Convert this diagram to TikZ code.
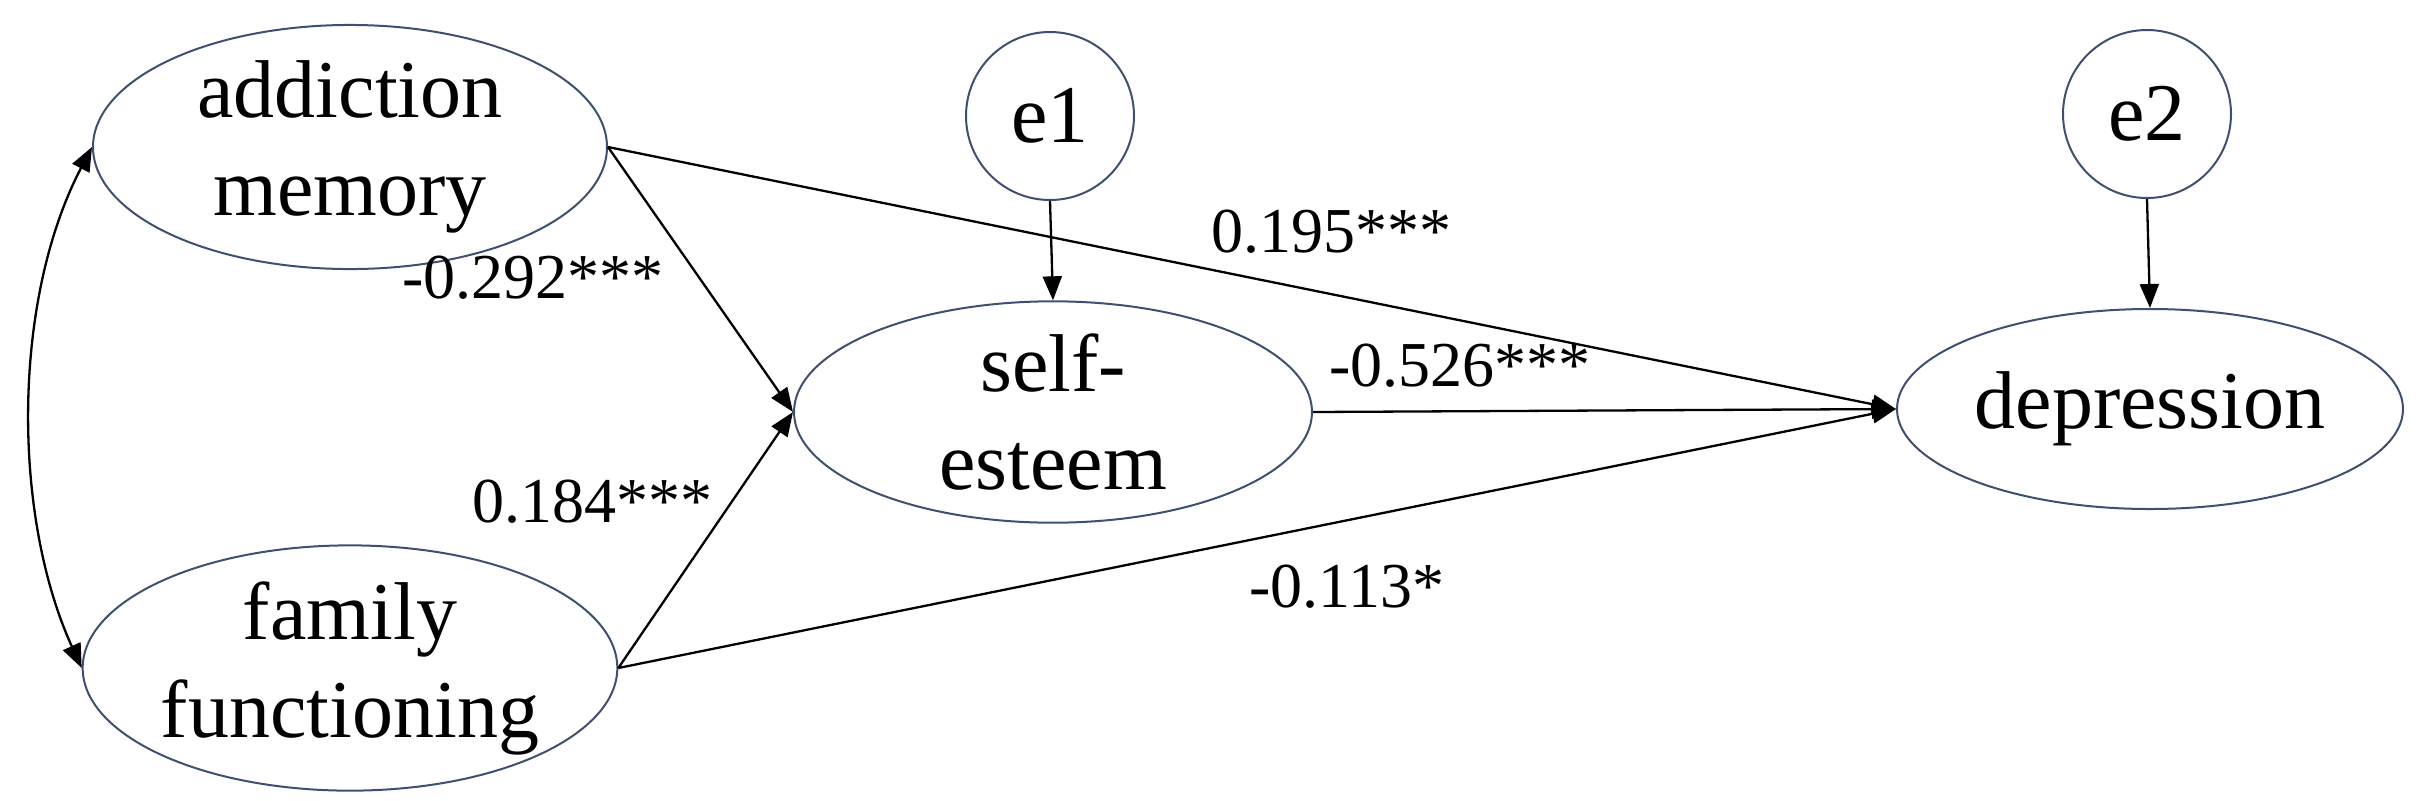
\documentclass[tikz,border=0pt]{standalone}
\usepackage{fontspec}
\setmainfont{Liberation Serif}
\newfontfamily\timesfont{Liberation Serif}
\usetikzlibrary{arrows.meta,shapes.geometric}
\definecolor{edgeblue}{RGB}{62,80,112}
\begin{document}
\begin{tikzpicture}[x=0.5pt,y=-0.5pt,
  latent/.style={ellipse,draw=edgeblue,line width=1pt,inner sep=0pt,align=center,font=\timesfont\fontsize{41}{49}\selectfont},
  err/.style={circle,draw=edgeblue,line width=1pt,inner sep=0pt,minimum size=84pt,font=\timesfont\fontsize{41}{49}\selectfont},
  arr/.style={-{Triangle[length=12pt,width=9.5pt]},line width=1.15pt},
  biarr/.style={{Triangle[length=12pt,width=9.5pt]}-{Triangle[length=12pt,width=9.5pt]},line width=1.15pt},
  coef/.style={font=\timesfont\fontsize{32}{38}\selectfont,inner sep=0pt}]
\useasboundingbox (0,0) rectangle (2422,800);
\node[latent,minimum width=257pt,minimum height=100pt] (AM) at (350,147) {addiction\\memory};
\node[latent,minimum width=257pt,minimum height=99pt] (FF) at (350,668) {family\\functioning};
\node[latent,minimum width=259pt,minimum height=97pt] (SE) at (1053,412) {self-\\esteem};
\node[latent,minimum width=253pt,minimum height=100pt] (DEP) at (2150,409) {depression};
\node[err] (e1) at (1050,116) {e1};
\node[err] (e2) at (2147,114) {e2};
\draw[biarr] (AM.west) .. controls (12,300) and (12,515) .. (FF.west);
\draw[arr] (AM.east) -- (SE.west);
\draw[arr] (AM.east) -- (DEP.west);
\draw[arr] (FF.east) -- (SE.west);
\draw[arr] (FF.east) -- (DEP.west);
\draw[arr] (SE.east) -- (DEP.west);
\draw[arr] (e1.south) -- (SE.north);
\draw[arr] (e2.south) -- (DEP.north);
\node[coef] (c1) at (533,278) {-0.292***};
\node[coef] (c2) at (592,502) {0.184***};
\node[coef] (c3) at (1331,232) {0.195***};
\node[coef] (c4) at (1460,366) {-0.526***};
\node[coef] (c5) at (1347,587) {-0.113*};
\end{tikzpicture}
\end{document}
